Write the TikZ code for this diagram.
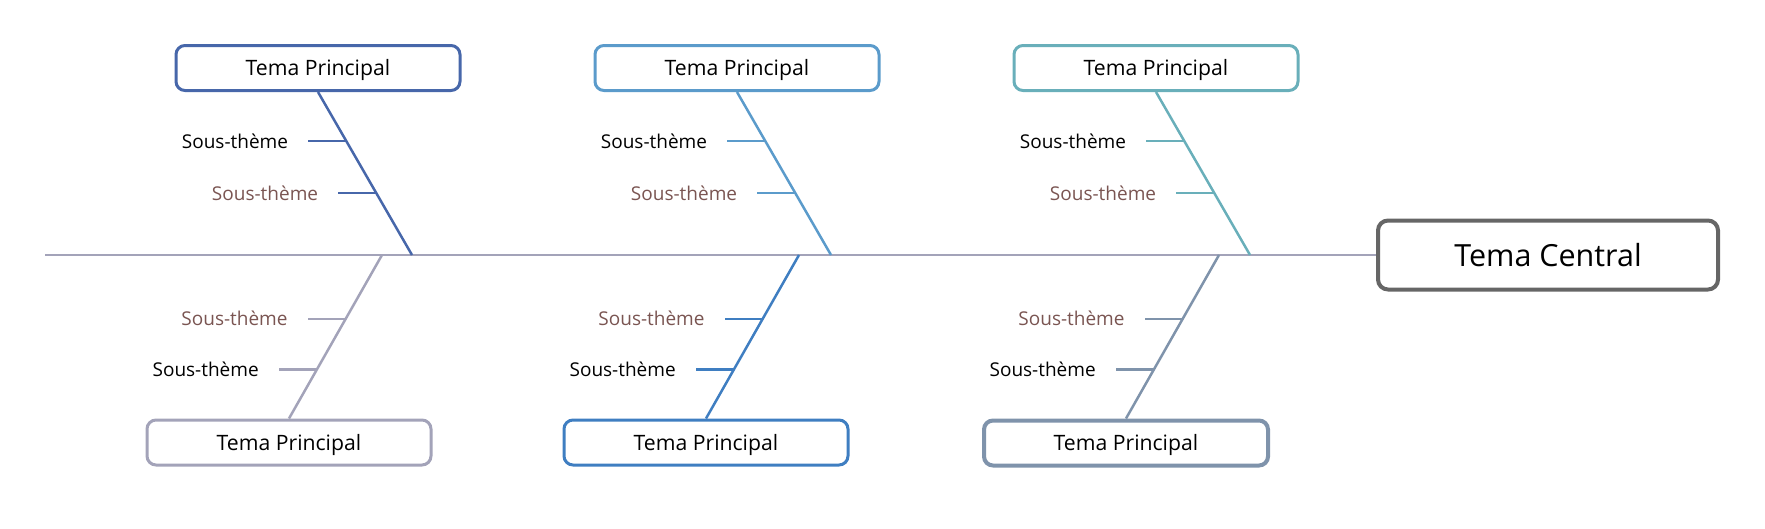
\documentclass[tikz,border=0pt]{standalone}
\usepackage{fontspec}
\setmainfont{Open Sans}
\usetikzlibrary{positioning}
\definecolor{spinecol}{HTML}{A3A3B9}
\definecolor{coregray}{HTML}{666666}
\definecolor{topA}{HTML}{4767AA}
\definecolor{topB}{HTML}{5B9BCB}
\definecolor{topC}{HTML}{69AFBA}
\definecolor{botA}{HTML}{A3A3B9}
\definecolor{botB}{HTML}{3F7EC1}
\definecolor{botC}{HTML}{7F93AB}
\definecolor{subbrown}{HTML}{7A5552}

\begin{document}
\begin{tikzpicture}[
  x=1pt, y=-1pt,
  topic/.style={draw, line width=3pt, rounded corners=9pt, fill=white,
    minimum width=284pt, minimum height=45pt, text height=15pt, text depth=0pt,
    font=\fontsize{21.2}{25}\selectfont},
  core/.style={draw=coregray, line width=4pt, rounded corners=10pt, fill=white,
    minimum width=340pt, minimum height=69pt, text height=22pt, text depth=0pt,
    font=\fontsize{30.5}{36}\selectfont},
  bone/.style={line width=2.5pt},
  sub/.style={inner sep=0pt, font=\fontsize{19}{23}\selectfont},
  subdark/.style={sub, text=subbrown}
]
\useasboundingbox (0,0) rectangle (1765,528);

% spine
\coordinate (tail) at (45,255);
\node[core] (cen) at (1548,255) {Tema Central};
\draw[bone, spinecol] (tail) -- (cen.west);

% upper branches
\coordinate (j1) at (412,255); \coordinate (j2) at (831,255); \coordinate (j3) at (1250,255);
\node[topic, draw=topA] (p1) at (318,68) {Tema Principal};
\node[topic, draw=topB] (p2) at (737,68) {Tema Principal};
\node[topic, draw=topC] (p3) at (1156,68) {Tema Principal};
\draw[bone, topA] (p1.south) -- coordinate[pos=.3] (p1a) coordinate[pos=.62] (p1b) (j1);
\draw[bone, topB] (p2.south) -- coordinate[pos=.3] (p2a) coordinate[pos=.62] (p2b) (j2);
\draw[bone, topC] (p3.south) -- coordinate[pos=.3] (p3a) coordinate[pos=.62] (p3b) (j3);

% lower branches
\coordinate (j4) at (382,255); \coordinate (j5) at (799,255); \coordinate (j6) at (1219,255);
\node[topic, draw=botA] (p4) at (289,442.5) {Tema Principal};
\node[topic, draw=botB] (p5) at (706,442.5) {Tema Principal};
\node[topic, draw=botC, line width=4pt] (p6) at (1126,443) {Tema Principal};
\draw[bone, botA] (p4.north) -- coordinate[pos=.3] (p4a) coordinate[pos=.61] (p4b) (j4);
\draw[bone, botB] (p5.north) -- coordinate[pos=.3] (p5a) coordinate[pos=.61] (p5b) (j5);
\draw[bone, botC] (p6.north) -- coordinate[pos=.3] (p6a) coordinate[pos=.61] (p6b) (j6);

% sub topics
\coordinate[left=38pt of p1a] (e1a); \coordinate[left=38pt of p1b] (e1b);
\coordinate[left=38pt of p2a] (e2a); \coordinate[left=38pt of p2b] (e2b);
\coordinate[left=38pt of p3a] (e3a); \coordinate[left=38pt of p3b] (e3b);
\coordinate[left=38pt of p4a] (e4a); \coordinate[left=38pt of p4b] (e4b);
\coordinate[left=38pt of p5a] (e5a); \coordinate[left=38pt of p5b] (e5b);
\coordinate[left=38pt of p6a] (e6a); \coordinate[left=38pt of p6b] (e6b);
\draw[bone, topA] (p1a) -- (e1a); \draw[bone, topA] (p1b) -- (e1b);
\draw[bone, topB] (p2a) -- (e2a); \draw[bone, topB] (p2b) -- (e2b);
\draw[bone, topC] (p3a) -- (e3a); \draw[bone, topC] (p3b) -- (e3b);
\draw[bone, botA] (p4a) -- (e4a); \draw[bone, botA] (p4b) -- (e4b);
\draw[bone, botB] (p5a) -- (e5a); \draw[bone, botB] (p5b) -- (e5b);
\draw[bone, botC] (p6a) -- (e6a); \draw[bone, botC] (p6b) -- (e6b);
\node[sub, left=20pt of e1a] (s1a) {Sous-thème};
\node[subdark, left=20pt of e1b] (s1b) {Sous-thème};
\node[sub, left=20pt of e2a] (s2a) {Sous-thème};
\node[subdark, left=20pt of e2b] (s2b) {Sous-thème};
\node[sub, left=20pt of e3a] (s3a) {Sous-thème};
\node[subdark, left=20pt of e3b] (s3b) {Sous-thème};
\node[sub, left=20pt of e4a] (s4a) {Sous-thème};
\node[subdark, left=20pt of e4b] (s4b) {Sous-thème};
\node[sub, left=20pt of e5a] (s5a) {Sous-thème};
\node[subdark, left=20pt of e5b] (s5b) {Sous-thème};
\node[sub, left=20pt of e6a] (s6a) {Sous-thème};
\node[subdark, left=20pt of e6b] (s6b) {Sous-thème};
\end{tikzpicture}
\end{document}
